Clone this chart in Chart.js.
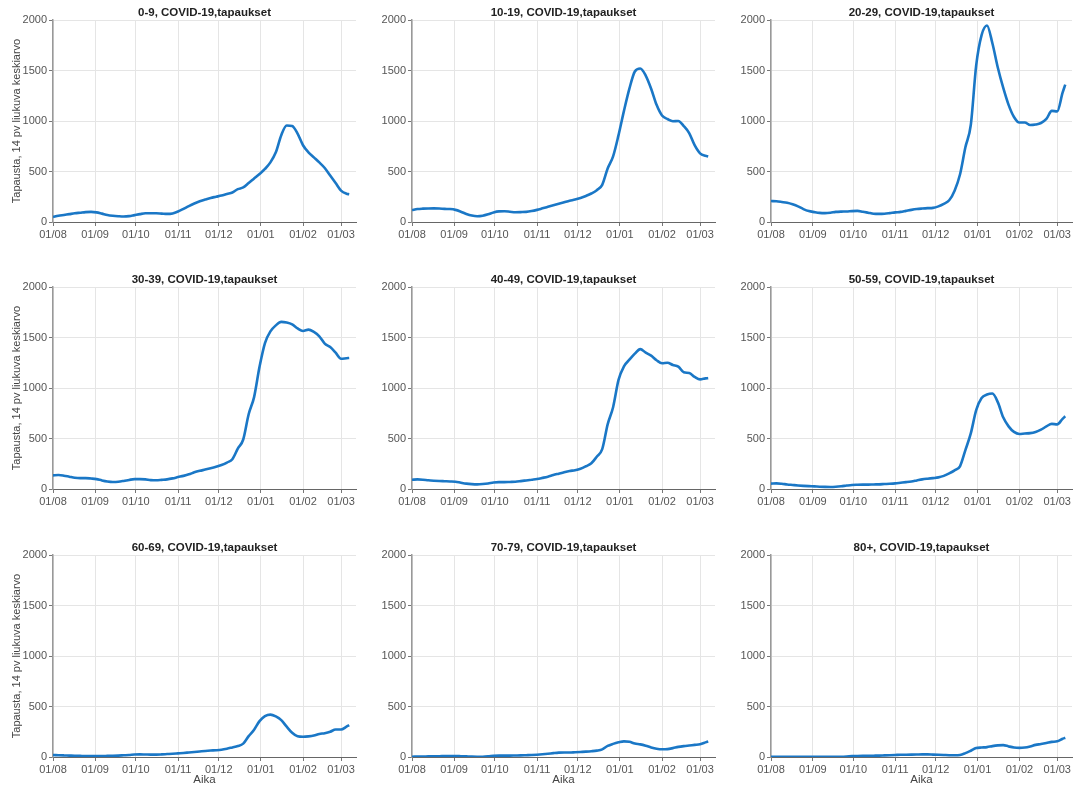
<!DOCTYPE html>
<html>
<head>
<meta charset="utf-8">
<title>COVID-19 tapaukset ikäryhmittäin</title>
<script src="https://cdn.jsdelivr.net/npm/chart.js@4.4.1/dist/chart.umd.min.js"></script>
<style>
  html, body { margin: 0; padding: 0; background: #fff; overflow: hidden; }
  #grid { position: relative; width: 1073px; height: 787px; }
  #grid canvas { position: absolute; }
</style>
</head>
<body>
<div id="grid"></div>
<script>
// Sampling dates (every 4th day) of the 14-day moving average
const dates = [
  '2020-08-01','2020-08-05','2020-08-09','2020-08-13','2020-08-17','2020-08-21','2020-08-25','2020-08-29',
  '2020-09-02','2020-09-06','2020-09-10','2020-09-14','2020-09-18','2020-09-22','2020-09-26','2020-09-30',
  '2020-10-04','2020-10-08','2020-10-12','2020-10-16','2020-10-20','2020-10-24','2020-10-28',
  '2020-11-01','2020-11-05','2020-11-09','2020-11-13','2020-11-17','2020-11-21','2020-11-25','2020-11-29',
  '2020-12-03','2020-12-07','2020-12-11','2020-12-15','2020-12-19','2020-12-23','2020-12-27','2020-12-31',
  '2021-01-04','2021-01-08','2021-01-12','2021-01-16','2021-01-20','2021-01-24','2021-01-28',
  '2021-02-01','2021-02-05','2021-02-09','2021-02-13','2021-02-17','2021-02-21','2021-02-25',
  '2021-03-01','2021-03-05','2021-03-07'
];

// Month ticks on the time axis
const monthTicks  = ['2020-08-01','2020-09-01','2020-10-01','2020-11-01','2020-12-01','2021-01-01','2021-02-01','2021-03-01'];
const monthLabels = ['01/08','01/09','01/10','01/11','01/12','01/01','01/02','01/03'];
const axisStart = '2020-08-01';
const axisEnd   = '2021-03-12';
const yTicks = [0, 500, 1000, 1500, 2000];

const groups = ['0-9','10-19','20-29','30-39','40-49','50-59','60-69','70-79','80+'];

// Cases, 14-day moving average per age group
const cases0to9 = [50,62,70,78,86,92,98,100,95,83,70,62,57,54,58,68,78,86,87,86,83,80,85,
  104,130,158,183,205,222,238,250,262,278,292,325,342,385,430,475,525,590,690,860,955,950,875,
  760,690,640,590,535,460,385,310,280,275];
const cases10to19 = [118,128,132,134,135,134,130,128,120,102,80,64,57,62,76,95,105,106,102,97,98,100,108,
  120,135,150,165,180,195,210,222,238,258,282,315,368,530,650,860,1100,1320,1490,1520,1450,1320,1160,
  1055,1020,998,1000,950,880,760,680,655,650];
const cases20to29 = [208,205,198,190,175,155,128,108,98,90,88,92,100,103,104,108,110,102,92,82,80,82,88,
  95,100,110,120,128,133,137,140,155,180,215,310,470,740,960,1550,1850,1945,1770,1530,1330,1160,1040,
  985,985,960,965,980,1020,1100,1095,1280,1360];
const cases30to39 = [135,138,132,122,112,108,108,104,98,85,75,70,72,80,90,98,98,95,88,86,90,95,105,
  118,130,145,165,180,192,205,220,238,262,295,400,490,740,910,1210,1445,1560,1620,1655,1648,1630,1590,
  1565,1578,1555,1512,1440,1405,1350,1290,1295,1297];
const cases40to49 = [92,95,92,86,82,79,77,75,72,62,53,48,46,49,55,64,68,68,70,72,78,85,92,
  99,110,122,138,152,166,178,186,200,225,255,320,395,640,810,1080,1215,1280,1340,1385,1350,1320,1275,
  1245,1250,1228,1212,1155,1148,1110,1085,1095,1098];
const cases50to59 = [53,56,52,45,40,35,31,28,26,23,21,20,22,27,34,40,42,43,43,45,46,49,52,
  56,62,68,75,85,95,102,108,115,130,155,185,225,385,550,780,900,935,945,860,710,620,565,
  545,550,553,565,587,620,645,640,695,720];
const cases60to69 = [20,18,16,14,12,11,10,10,10,10,11,12,14,17,20,25,26,25,24,24,26,29,32,
  36,40,45,50,55,60,64,67,72,82,95,108,132,207,270,355,405,420,402,365,300,240,205,
  200,204,212,228,236,250,272,272,300,315];
const cases70to79 = [3,4,5,6,7,8,9,10,10,8,6,4,3,3,6,12,14,14,14,15,16,18,20,
  23,27,32,38,43,44,44,47,50,53,57,63,75,110,130,145,155,150,133,125,112,95,82,
  76,78,88,100,108,114,120,126,145,155];
const cases80plus = [3,3,3,2,2,1,1,2,3,3,3,3,3,3,5,9,10,11,12,13,14,16,18,
  20,22,23,24,25,26,26,24,22,20,18,17,20,38,62,88,94,98,108,115,118,105,94,
  90,94,105,120,128,138,150,155,180,190];

const seriesByGroup = [cases0to9, cases10to19, cases20to29, cases30to39, cases40to49,
  cases50to59, cases60to69, cases70to79, cases80plus];

const DAY = 86400000;
const dayOf = d => (Date.parse(d) - Date.parse(axisStart)) / DAY;

const FONT = "'Liberation Sans', Arial, Helvetica, sans-serif";
const LINE_COLOR = '#1a77c6';
const GRID_COLOR = '#e5e5e5';

// Panel geometry: 3 x 3 small multiples
const colLeft  = [0, 359, 718];
const colWidth = [359, 359, 355];
const rowTop   = [0, 267, 535];
const rowHeight = [267, 267, 252];
const yAxisWidth = 53;
const plotWidth = 303;
const plotBottom = 222;

const grid = document.getElementById('grid');

groups.forEach((group, idx) => {
  const col = idx % 3, row = Math.floor(idx / 3);
  const W = colWidth[col], H = rowHeight[row];
  const canvas = document.createElement('canvas');
  canvas.width = W; canvas.height = H;
  canvas.style.left = colLeft[col] + 'px';
  canvas.style.top = rowTop[row] + 'px';
  canvas.style.width = W + 'px';
  canvas.style.height = H + 'px';
  grid.appendChild(canvas);

  const values = seriesByGroup[idx];
  const points = dates.map((d, i) => ({ x: dayOf(d), y: values[i] }));

  new Chart(canvas, {
    type: 'line',
    data: {
      datasets: [{
        label: group,
        data: points,
        borderColor: LINE_COLOR,
        borderWidth: 2.6,
        pointRadius: 0,
        fill: false,
        cubicInterpolationMode: 'monotone'
      }]
    },
    options: {
      responsive: false,
      devicePixelRatio: 1,
      animation: false,
      events: [],
      layout: { padding: { left: 0, top: 0, bottom: 0, right: Math.max(0, W - yAxisWidth - plotWidth) } },
      plugins: {
        legend: { display: false },
        tooltip: { enabled: false },
        title: {
          display: true,
          text: group + ', COVID-19,tapaukset',
          fullSize: false,
          color: '#222',
          font: { family: FONT, size: 11.5, weight: 'bold' },
          padding: { top: 6, bottom: 0.2 }
        }
      },
      scales: {
        x: {
          type: 'linear',
          min: dayOf(axisStart),
          max: dayOf(axisEnd),
          afterBuildTicks: s => { s.ticks = monthTicks.map(m => ({ value: dayOf(m) })); },
          afterFit: s => { s.height = H - plotBottom; },
          ticks: {
            autoSkip: false,
            maxRotation: 0,
            padding: 2,
            color: '#555',
            font: { family: FONT, size: 11 },
            callback: (v, i) => monthLabels[i]
          },
          grid: { color: GRID_COLOR, tickLength: 4, tickColor: '#777' },
          border: { color: '#666', width: 1 },
          title: {
            display: row === 2,
            text: 'Aika',
            color: '#444',
            font: { family: FONT, size: 11.5 },
            padding: { top: 0, bottom: 0 }
          }
        },
        y: {
          min: 0,
          max: 2000,
          afterBuildTicks: s => { s.ticks = yTicks.map(v => ({ value: v })); },
          afterFit: s => { s.width = yAxisWidth; },
          ticks: {
            padding: 2,
            color: '#555',
            font: { family: FONT, size: 11 },
            callback: v => String(v)
          },
          grid: { color: GRID_COLOR, tickLength: 4, tickColor: '#777' },
          border: { color: '#999', width: 1.5 },
          title: {
            display: col === 0,
            text: 'Tapausta, 14 pv liukuva keskiarvo',
            color: '#444',
            font: { family: FONT, size: 11 },
            padding: { top: 10, bottom: 0 }
          }
        }
      }
    }
  });
});
</script>
</body>
</html>
